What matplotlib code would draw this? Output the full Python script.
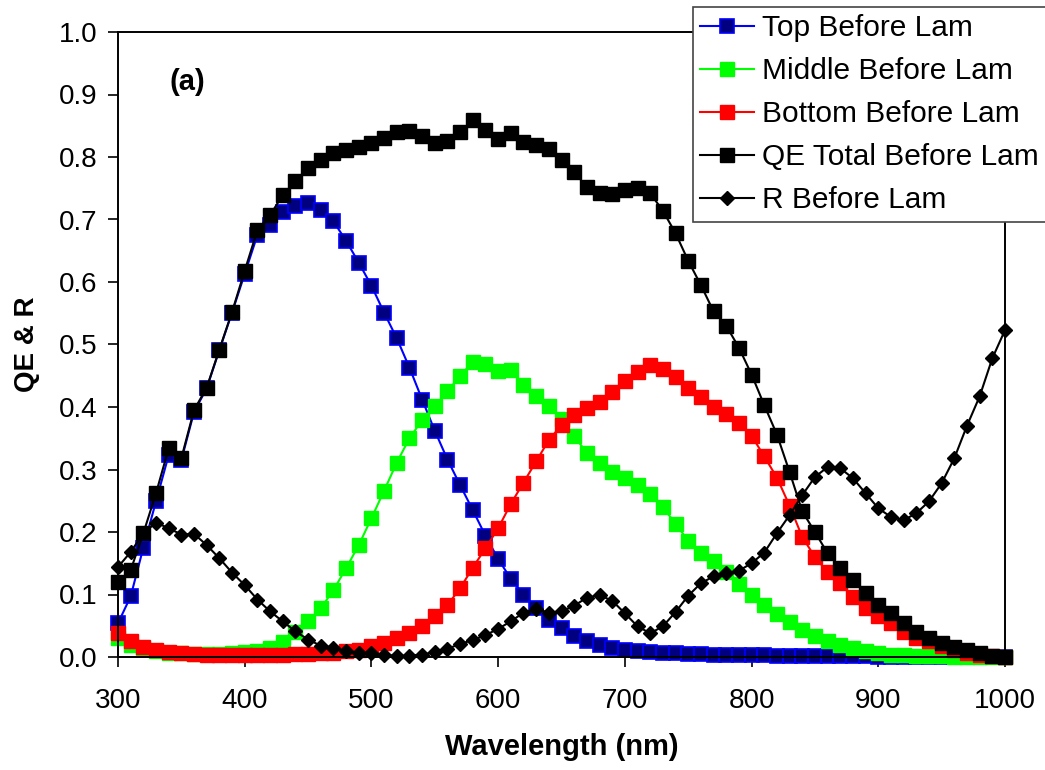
import matplotlib
matplotlib.use("Agg")
import matplotlib.pyplot as plt
from matplotlib.ticker import FormatStrFormatter, MultipleLocator

plt.rcParams['font.family'] = ['Liberation Sans', 'DejaVu Sans']

# wavelength grid (nm)
wl = [300, 310, 320, 330, 340, 350, 360, 370, 380, 390,
      400, 410, 420, 430, 440, 450, 460, 470, 480, 490,
      500, 510, 520, 530, 540, 550, 560, 570, 580, 590,
      600, 610, 620, 630, 640, 650, 660, 670, 680, 690,
      700, 710, 720, 730, 740, 750, 760, 770, 780, 790,
      800, 810, 820, 830, 840, 850, 860, 870, 880, 890,
      900, 910, 920, 930, 940, 950, 960, 970, 980, 990, 1000]

top = [0.054, 0.097, 0.175, 0.249, 0.323, 0.315, 0.392, 0.430, 0.491, 0.551,
       0.613, 0.675, 0.692, 0.712, 0.722, 0.726, 0.715, 0.697, 0.666, 0.631,
       0.594, 0.551, 0.510, 0.463, 0.412, 0.362, 0.316, 0.275, 0.235, 0.194,
       0.157, 0.125, 0.100, 0.079, 0.060, 0.046, 0.034, 0.026, 0.019, 0.015,
       0.011, 0.009, 0.008, 0.007, 0.006, 0.005, 0.005, 0.004, 0.004, 0.003,
       0.003, 0.003, 0.002, 0.002, 0.002, 0.002, 0.001, 0.001, 0.001, 0.001,
       0.000, 0.000, 0.000, 0.000, 0.000, 0.000, 0.000, 0.000, 0.000, 0.000, 0.000]

middle = [0.030, 0.020, 0.014, 0.010, 0.007, 0.006, 0.005, 0.005, 0.005, 0.006,
          0.008, 0.010, 0.015, 0.024, 0.040, 0.057, 0.078, 0.107, 0.142, 0.179,
          0.222, 0.266, 0.311, 0.350, 0.379, 0.401, 0.425, 0.450, 0.472, 0.469,
          0.458, 0.460, 0.436, 0.418, 0.401, 0.381, 0.353, 0.327, 0.310, 0.296,
          0.286, 0.275, 0.261, 0.240, 0.213, 0.186, 0.166, 0.153, 0.136, 0.117,
          0.099, 0.084, 0.069, 0.056, 0.044, 0.033, 0.025, 0.019, 0.014, 0.009,
          0.006, 0.004, 0.003, 0.002, 0.001, 0.001, 0.000, 0.000, 0.000, 0.000, 0.000]

bottom = [0.038, 0.025, 0.016, 0.011, 0.008, 0.006, 0.005, 0.004, 0.004, 0.004,
          0.004, 0.004, 0.004, 0.004, 0.005, 0.005, 0.006, 0.007, 0.009, 0.012,
          0.017, 0.022, 0.030, 0.038, 0.049, 0.065, 0.083, 0.110, 0.143, 0.174,
          0.206, 0.245, 0.279, 0.313, 0.347, 0.371, 0.387, 0.398, 0.408, 0.424,
          0.441, 0.456, 0.467, 0.461, 0.448, 0.431, 0.416, 0.400, 0.389, 0.375,
          0.354, 0.321, 0.287, 0.242, 0.192, 0.160, 0.136, 0.118, 0.096, 0.078,
          0.065, 0.054, 0.040, 0.030, 0.025, 0.017, 0.011, 0.006, 0.003, 0.001, 0.000]

qe_total = [0.120, 0.139, 0.198, 0.262, 0.334, 0.318, 0.395, 0.431, 0.492, 0.552,
            0.618, 0.683, 0.707, 0.739, 0.761, 0.783, 0.796, 0.806, 0.811, 0.816,
            0.822, 0.830, 0.840, 0.842, 0.834, 0.822, 0.826, 0.840, 0.859, 0.844,
            0.829, 0.839, 0.824, 0.819, 0.813, 0.796, 0.776, 0.752, 0.742, 0.741,
            0.747, 0.750, 0.742, 0.714, 0.678, 0.634, 0.595, 0.553, 0.530, 0.495,
            0.452, 0.403, 0.356, 0.296, 0.233, 0.200, 0.166, 0.142, 0.123, 0.102,
            0.083, 0.070, 0.054, 0.040, 0.030, 0.022, 0.016, 0.011, 0.006, 0.001, 0.000]

refl = [0.144, 0.168, 0.198, 0.215, 0.206, 0.196, 0.197, 0.179, 0.158, 0.135,
        0.115, 0.092, 0.073, 0.057, 0.041, 0.028, 0.018, 0.014, 0.010, 0.007,
        0.006, 0.003, 0.002, 0.002, 0.004, 0.008, 0.013, 0.021, 0.027, 0.035,
        0.045, 0.057, 0.071, 0.077, 0.071, 0.073, 0.082, 0.095, 0.099, 0.090,
        0.070, 0.049, 0.038, 0.049, 0.072, 0.098, 0.118, 0.129, 0.134, 0.138,
        0.150, 0.167, 0.198, 0.227, 0.259, 0.288, 0.304, 0.302, 0.286, 0.262,
        0.238, 0.224, 0.219, 0.230, 0.249, 0.278, 0.318, 0.370, 0.417, 0.478, 0.523]

fig = plt.figure(figsize=(10.45, 7.7), dpi=100)
ax = fig.add_axes([118/1045, 1-657/770, (1005-118)/1045, (657-32)/770])

ax.plot(wl, top, '-s', color='#0000FF', mfc='#000080', mec='#0000FF', mew=1.2,
        ms=9.5, lw=1.5, clip_on=False, label='Top Before Lam')
ax.plot(wl, middle, '-s', color='#00FF00', mfc='#00FF00', mec='#00FF00',
        ms=9.5, lw=1.5, clip_on=False, label='Middle Before Lam')
ax.plot(wl, bottom, '-s', color='#FF0000', mfc='#FF0000', mec='#FF0000',
        ms=9.5, lw=1.5, clip_on=False, label='Bottom Before Lam')
ax.plot(wl, qe_total, '-s', color='black', ms=9.5, lw=1.5, clip_on=False,
        label='QE Total Before Lam')
ax.plot(wl, refl, '-D', color='black', ms=7, lw=1.5, clip_on=False,
        label='R Before Lam')

ax.set_xlim(300, 1000)
ax.set_ylim(0, 1.0)
ax.xaxis.set_major_locator(MultipleLocator(100))
ax.yaxis.set_major_locator(MultipleLocator(0.1))
ax.yaxis.set_major_formatter(FormatStrFormatter('%.1f'))
ax.tick_params(direction='out', length=7, width=1.2, labelsize=20)
ax.tick_params(axis='x', pad=15)
ax.tick_params(axis='y', pad=8)
for s in ax.spines.values():
    s.set_linewidth(1.4)

ax.set_xlabel('Wavelength (nm)', fontsize=21, fontweight='bold', labelpad=14)
ax.set_ylabel('QE & R', fontsize=20, fontweight='bold', labelpad=13)
ax.text(355, 0.92, '(a)', fontsize=21, fontweight='bold', ha='center', va='center')

leg = ax.legend(loc='upper left', bbox_to_anchor=(693/1045, 1-7/770),
                bbox_transform=fig.transFigure, borderaxespad=0, fontsize=21.5,
                frameon=True, fancybox=False, framealpha=1, edgecolor='#444444',
                handlelength=1.8, handletextpad=0.25, labelspacing=0.5,
                borderpad=0.25)
leg.get_frame().set_linewidth(1.2)

fig.savefig('out.png', dpi=100)
